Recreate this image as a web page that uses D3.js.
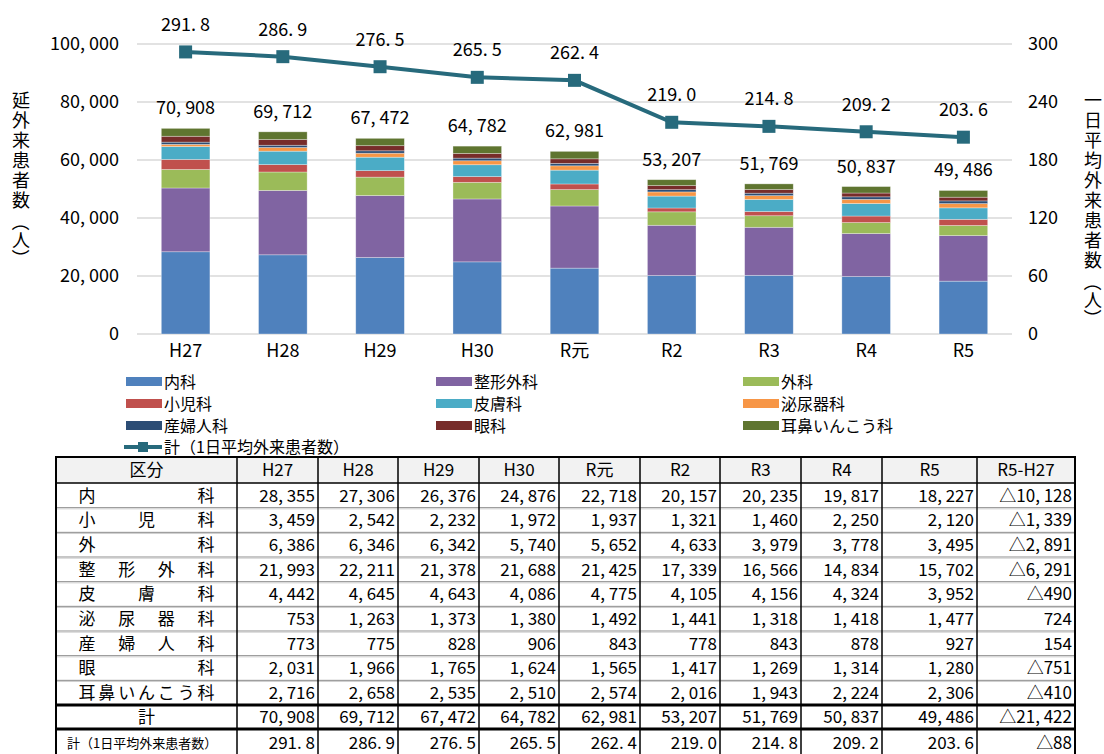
<!DOCTYPE html>
<html>
<head>
<meta charset="utf-8">
<script src="https://cdn.jsdelivr.net/npm/d3@7"></script>
<style>
  body { margin: 0; background: #fff; }
  text { font-family: "Noto Sans CJK JP", "Noto Sans", sans-serif; fill: #000; }
</style>
</head>
<body>
<script>
// 年度
let categories = ["H27", "H28", "H29", "H30", "R元", "R2", "R3", "R4", "R5"];

// 診療科別 延外来患者数
let naika   = [28355, 27306, 26376, 24876, 22718, 20157, 20235, 19817, 18227];
let shoni   = [3459, 2542, 2232, 1972, 1937, 1321, 1460, 2250, 2120];
let geka    = [6386, 6346, 6342, 5740, 5652, 4633, 3979, 3778, 3495];
let seikei  = [21993, 22211, 21378, 21688, 21425, 17339, 16566, 14834, 15702];
let hifu    = [4442, 4645, 4643, 4086, 4775, 4105, 4156, 4324, 3952];
let hinyo   = [753, 1263, 1373, 1380, 1492, 1441, 1318, 1418, 1477];
let sanfu   = [773, 775, 828, 906, 843, 778, 843, 878, 927];
let ganka   = [2031, 1966, 1765, 1624, 1565, 1417, 1269, 1314, 1280];
let jibi    = [2716, 2658, 2535, 2510, 2574, 2016, 1943, 2224, 2306];
let totals  = [70908, 69712, 67472, 64782, 62981, 53207, 51769, 50837, 49486];
let daily   = [291.8, 286.9, 276.5, 265.5, 262.4, 219.0, 214.8, 209.2, 203.6];

let leftTicks = [0, 20000, 40000, 60000, 80000, 100000];
let rightTicks = [0, 60, 120, 180, 240, 300];

// 積み上げ順 (下から)
let stackSeries = [
    {key: "内科", values: naika, color: "#4f81bd"},
    {key: "整形外科", values: seikei, color: "#8064a2"},
    {key: "外科", values: geka, color: "#9bbb59"},
    {key: "小児科", values: shoni, color: "#c0504d"},
    {key: "皮膚科", values: hifu, color: "#4bacc6"},
    {key: "泌尿器科", values: hinyo, color: "#f79646"},
    {key: "産婦人科", values: sanfu, color: "#2c4d75"},
    {key: "眼科", values: ganka, color: "#772c2a"},
    {key: "耳鼻いんこう科", values: jibi, color: "#5f7530"}
];
let lineName = "計（1日平均外来患者数）";
let lineColor = "#276a7c";

// 表の行順
let tableRows = [
    {label: "内科", values: naika},
    {label: "小児科", values: shoni},
    {label: "外科", values: geka},
    {label: "整形外科", values: seikei},
    {label: "皮膚科", values: hifu},
    {label: "泌尿器科", values: hinyo},
    {label: "産婦人科", values: sanfu},
    {label: "眼科", values: ganka},
    {label: "耳鼻いんこう科", values: jibi}
];

let svg = d3.select("body").append("svg")
    .attr("width", 1104)
    .attr("height", 754);

let plot = {left: 137, right: 1012, top: 44, bottom: 334};

let x = d3.scaleBand().domain(categories).range([plot.left, plot.right])
    .paddingInner(0.5).paddingOuter(0.25);
let y = d3.scaleLinear().domain([0, 100000]).range([plot.bottom, plot.top]);
let y2 = d3.scaleLinear().domain([0, 300]).range([plot.bottom, plot.top]);

function jp(n) {
    return d3.format(",")(n).replace(/,/g, ", ");
}
function jp1(n) {
    return d3.format(".1f")(n).replace(".", ". ");
}

// grid
svg.append("g").selectAll("line")
    .data(leftTicks)
    .join("line")
    .attr("x1", plot.left).attr("x2", plot.right)
    .attr("y1", d => y(d)).attr("y2", d => y(d))
    .attr("stroke", "#d9d9d9").attr("stroke-width", 1.3);

// axes
let leftAxis = svg.append("g")
    .attr("transform", "translate(" + plot.left + ",0)")
    .call(d3.axisLeft(y).tickValues(leftTicks).tickSize(0).tickPadding(18).tickFormat(jp));
let rightAxis = svg.append("g")
    .attr("transform", "translate(" + plot.right + ",0)")
    .call(d3.axisRight(y2).tickValues(rightTicks).tickSize(0).tickPadding(16));
let bottomAxis = svg.append("g")
    .attr("transform", "translate(0," + plot.bottom + ")")
    .call(d3.axisBottom(x).tickSize(0).tickPadding(10));
[leftAxis, rightAxis, bottomAxis].forEach(function (a) {
    a.select(".domain").remove();
    a.selectAll("text").style("font-size", "18px").attr("fill", "#000")
        .style("font-family", "\"Noto Sans CJK JP\", sans-serif");
});

// axis titles: one text, a tspan per glyph (縦書き), brackets turned
function verticalTitle(cx, y0, main) {
    let t = svg.append("text").style("font-size", "18px");
    let chars = main.split("");
    chars.forEach(function (ch, i) {
        t.append("tspan")
            .attr("x", cx - 9).attr("y", y0 + i * 20 + 7)
            .text(ch);
    });
    let last = y0 + (chars.length - 1) * 20;
    t.append("tspan")
        .attr("x", cx - 6.8).attr("y", last + 13)
        .attr("rotate", 90)
        .text("（");
    t.append("tspan")
        .attr("x", cx - 9).attr("y", last + 47)
        .text("人");
    t.append("tspan")
        .attr("x", cx - 6.8).attr("y", last + 49)
        .attr("rotate", 90)
        .text("）");
}
verticalTitle(21, 100, "延外来患者数");
verticalTitle(1093, 100, "一日平均外来患者数");

// stacked bars
let rows = categories.map(function (c, i) {
    let r = {cat: c};
    stackSeries.forEach(s => r[s.key] = s.values[i]);
    return r;
});
let stacked = d3.stack().keys(stackSeries.map(s => s.key))(rows);
let colorOf = d3.scaleOrdinal().domain(stackSeries.map(s => s.key)).range(stackSeries.map(s => s.color));

svg.append("g").selectAll("g")
    .data(stacked)
    .join("g")
    .attr("fill", d => colorOf(d.key))
    .selectAll("rect")
    .data(d => d)
    .join("rect")
    .attr("x", d => x(d.data.cat))
    .attr("width", x.bandwidth())
    .attr("y", d => y(d[1]))
    .attr("height", d => y(d[0]) - y(d[1]))
    .attr("stroke", "#ffffff").attr("stroke-opacity", 0.45).attr("stroke-width", 0.7);

// total labels
svg.append("g").selectAll("text")
    .data(totals)
    .join("text")
    .attr("x", (d, i) => x(categories[i]) + x.bandwidth() / 2)
    .attr("y", d => y(d) - 14)
    .attr("text-anchor", "middle")
    .style("font-size", "18px")
    .text(jp);

// line
let line = d3.line()
    .x((d, i) => x(categories[i]) + x.bandwidth() / 2)
    .y(d => y2(d));
svg.append("path")
    .datum(daily)
    .attr("d", line)
    .attr("fill", "none")
    .attr("stroke", lineColor)
    .attr("stroke-width", 4);
svg.append("g").selectAll("rect")
    .data(daily)
    .join("rect")
    .attr("x", (d, i) => x(categories[i]) + x.bandwidth() / 2 - 6.5)
    .attr("y", d => y2(d) - 6.5)
    .attr("width", 13).attr("height", 13)
    .attr("fill", lineColor);
svg.append("g").selectAll("text")
    .data(daily)
    .join("text")
    .attr("x", (d, i) => x(categories[i]) + x.bandwidth() / 2)
    .attr("y", d => y2(d) - 21)
    .attr("text-anchor", "middle")
    .style("font-size", "18px")
    .text(jp1);

// legend
let legendCols = [126, 436, 743];
let legendRows = [382, 404, 426];
let legend = svg.append("g");
stackSeries.forEach(function (s, i) {
    let lx = legendCols[i % 3], ly = legendRows[Math.floor(i / 3)];
    legend.append("rect")
        .attr("x", lx).attr("y", ly - 5)
        .attr("width", 36).attr("height", 9)
        .attr("fill", s.color);
    legend.append("text")
        .attr("x", lx + 38).attr("y", ly + 6)
        .style("font-size", "16px")
        .text(s.key);
});
legend.append("line")
    .attr("x1", 124).attr("x2", 162)
    .attr("y1", 447).attr("y2", 447)
    .attr("stroke", lineColor).attr("stroke-width", 4);
legend.append("rect")
    .attr("x", 138).attr("y", 442)
    .attr("width", 10).attr("height", 10)
    .attr("fill", lineColor);
legend.append("text")
    .attr("x", 164).attr("y", 453)
    .style("font-size", "16px")
    .text(lineName);

// table
let colEdges = [56, 237, 318, 398, 479, 559, 640, 720, 801, 882, 977, 1075];
let tTop = 457, headBottom = 483, dataBottom = 705, sumBottom = 729, tBottom = 754;
let rowH = (dataBottom - headBottom) / tableRows.length;
let table = svg.append("g");

table.append("rect")
    .attr("x", colEdges[0]).attr("y", tTop)
    .attr("width", colEdges[colEdges.length - 1] - colEdges[0])
    .attr("height", headBottom - tTop)
    .attr("fill", "#f2f2f2");

let headers = ["区分"].concat(categories, ["R5-H27"]);
headers.forEach(function (h, i) {
    table.append("text")
        .attr("x", (colEdges[i] + colEdges[i + 1]) / 2)
        .attr("y", headBottom - 7)
        .attr("text-anchor", "middle")
        .style("font-size", "17px")
        .text(h);
});

function diffText(v, fmt) {
    let s = fmt(Math.abs(v));
    return v < 0 ? "△" + s : s;
}
function cellRight(ci) { return colEdges[ci + 1] - 3; }

// data rows
tableRows.forEach(function (r, ri) {
    let ty = headBottom + rowH * (ri + 1) - 6;
    let chars = r.label.split("");
    let x0 = 87, x1 = 206;
    chars.forEach(function (ch, k) {
        table.append("text")
            .attr("x", chars.length === 1 ? (x0 + x1) / 2 : x0 + (x1 - x0) * k / (chars.length - 1))
            .attr("y", ty)
            .attr("text-anchor", "middle")
            .style("font-size", "17px")
            .text(ch);
    });
    r.values.forEach(function (v, ci) {
        table.append("text")
            .attr("x", cellRight(ci + 1)).attr("y", ty)
            .attr("text-anchor", "end")
            .style("font-size", "17px")
            .text(jp(v));
    });
    table.append("text")
        .attr("x", cellRight(categories.length + 1)).attr("y", ty)
        .attr("text-anchor", "end")
        .style("font-size", "17px")
        .text(diffText(r.values[r.values.length - 1] - r.values[0], jp));
});

// 計 row
let sumY = sumBottom - 6;
table.append("text")
    .attr("x", (colEdges[0] + colEdges[1]) / 2).attr("y", sumY)
    .attr("text-anchor", "middle").style("font-size", "17px").text("計");
totals.forEach(function (v, ci) {
    table.append("text")
        .attr("x", cellRight(ci + 1)).attr("y", sumY)
        .attr("text-anchor", "end").style("font-size", "17px").text(jp(v));
});
table.append("text")
    .attr("x", cellRight(categories.length + 1)).attr("y", sumY)
    .attr("text-anchor", "end").style("font-size", "17px")
    .text(diffText(totals[totals.length - 1] - totals[0], jp));

// 1日平均 row
let dY = tBottom - 5;
table.append("text")
    .attr("x", 67).attr("y", dY - 1)
    .style("font-size", "13px").text(lineName);
daily.forEach(function (v, ci) {
    table.append("text")
        .attr("x", cellRight(ci + 1)).attr("y", dY)
        .attr("text-anchor", "end").style("font-size", "17px").text(jp1(v));
});
table.append("text")
    .attr("x", cellRight(categories.length + 1)).attr("y", dY)
    .attr("text-anchor", "end").style("font-size", "17px")
    .text(diffText(Math.round(daily[daily.length - 1] - daily[0]), d3.format(",")));

// table lines
for (let ri = 1; ri < tableRows.length; ri++) {
    let ly = headBottom + rowH * ri;
    table.append("line")
        .attr("x1", colEdges[0]).attr("x2", colEdges[colEdges.length - 1])
        .attr("y1", ly).attr("y2", ly)
        .attr("stroke", "#8c8c8c").attr("stroke-width", 1);
    table.append("line")
        .attr("x1", colEdges[0]).attr("x2", colEdges[colEdges.length - 1])
        .attr("y1", ly + 1.2).attr("y2", ly + 1.2)
        .attr("stroke", "#cfcfcf").attr("stroke-width", 1);
}
colEdges.slice(1, -1).forEach(function (cx) {
    table.append("line")
        .attr("x1", cx).attr("x2", cx)
        .attr("y1", tTop).attr("y2", tBottom)
        .attr("stroke", "#000").attr("stroke-width", 1.5);
});
table.append("line")
    .attr("x1", colEdges[0]).attr("x2", colEdges[colEdges.length - 1])
    .attr("y1", headBottom).attr("y2", headBottom)
    .attr("stroke", "#000").attr("stroke-width", 1.5);
[dataBottom, sumBottom].forEach(function (ly) {
    table.append("line")
        .attr("x1", colEdges[0]).attr("x2", colEdges[colEdges.length - 1])
        .attr("y1", ly).attr("y2", ly)
        .attr("stroke", "#000").attr("stroke-width", 3);
});
table.append("rect")
    .attr("x", colEdges[0]).attr("y", tTop)
    .attr("width", colEdges[colEdges.length - 1] - colEdges[0])
    .attr("height", tBottom + 4 - tTop)
    .attr("fill", "none")
    .attr("stroke", "#000").attr("stroke-width", 2);
</script>
</body>
</html>
